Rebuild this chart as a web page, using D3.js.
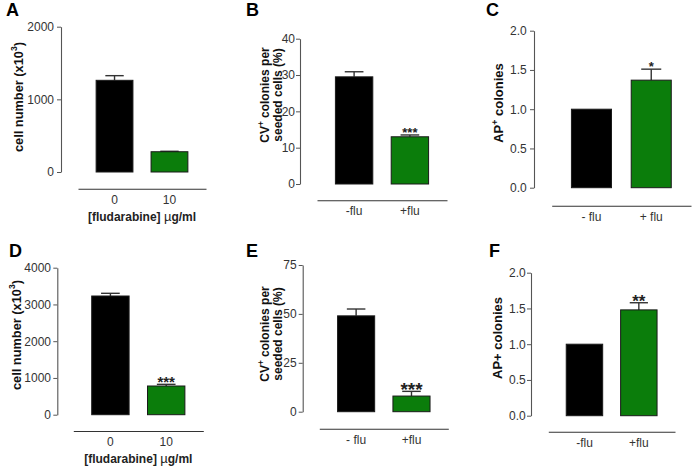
<!DOCTYPE html>
<html>
<head>
<meta charset="utf-8">
<script src="https://cdn.jsdelivr.net/npm/d3@7"></script>
<style>
  html, body { margin: 0; padding: 0; background: #fff; }
  svg { display: block; font-family: "Liberation Sans", Arial, Helvetica, sans-serif; }
</style>
</head>
<body>
<svg id="chart" width="692" height="467"></svg>
<script>
// ---------- DATA ----------
const catsDose = ["0", "10"];
const catsFluB = ["-flu", "+flu"];
const catsFluC = ["- flu", "+ flu"];
const catsFluE = ["- flu", "+flu"];
const catsFluF = ["-flu", "+flu"];

const valuesA = [1262, 279];
const errorsA = [64, 6];
const starsA = ["", ""];
const ticksA = [0, 1000, 2000];

const valuesB = [29.5, 13.0];
const errorsB = [1.4, 0.5];
const starsB = ["", "***"];
const ticksB = [0, 10, 20, 30, 40];

const valuesC = [1.0, 1.37];
const errorsC = [0, 0.14];
const starsC = ["", "*"];
const ticksC = [0, 0.5, 1.0, 1.5, 2.0];

const valuesD = [3230, 781];
const errorsD = [73, 45];
const starsD = ["", "***"];
const ticksD = [0, 1000, 2000, 3000, 4000];

const valuesE = [49, 8];
const errorsE = [3.5, 2.4];
const starsE = ["", "***"];
const ticksE = [0, 25, 50, 75];

const valuesF = [1.0, 1.48];
const errorsF = [0, 0.1];
const starsF = ["", "**"];
const ticksF = [0, 0.5, 1.0, 1.5, 2.0];

const barColors = ["#000000", "#0b7d0b"];

// ---------- DRAW ----------
const svg = d3.select("#chart");

function label(g, parts) {
  let afterSup = false;
  parts.forEach(([t, sup]) => {
    const ts = g.append("tspan").text(t);
    if (sup) { ts.attr("font-size", "0.68em").attr("dy", "-0.6em"); afterSup = true; }
    else if (afterSup) { ts.attr("dy", "0.408em"); afterSup = false; }
  });
}

function panel(cfg) {
  const g = svg.append("g");
  const y = d3.scaleLinear().domain([0, cfg.ticks[cfg.ticks.length - 1]]).range([cfg.y0, cfg.y1]);
  const x = d3.scaleBand().domain(cfg.cats).range([cfg.xl, cfg.xr])
    .paddingInner(0.33).paddingOuter(0.33);

  // y axis
  const ya = g.append("g").attr("transform", `translate(${cfg.ax},0)`)
    .call(d3.axisLeft(y).tickValues(cfg.ticks).tickSize(4).tickSizeOuter(0).tickPadding(cfg.tp)
      .tickFormat(cfg.fmt));
  ya.select(".domain").attr("stroke", "#555").attr("stroke-width", 1.1);
  ya.selectAll(".tick line").attr("stroke", "#555");
  ya.selectAll(".tick text").attr("font-size", 12).attr("fill", "#333")
    .attr("font-family", "Liberation Sans, Arial, sans-serif");

  // x axis
  const xa = g.append("g").attr("transform", `translate(0,${cfg.lineY})`)
    .call(d3.axisBottom(x).tickSize(0).tickSizeOuter(0).tickPadding(6.5));
  xa.select(".domain").attr("stroke", "#333").attr("stroke-width", 1.1);
  xa.selectAll(".tick text").attr("font-size", 12).attr("fill", "#333")
    .attr("font-family", "Liberation Sans, Arial, sans-serif");

  // error bars (upper only)
  const eb = g.append("g").attr("stroke", "#333").attr("stroke-width", 1.4);
  cfg.cats.forEach((c, i) => {
    if (cfg.errors[i] <= 0) return;
    const cx = x(c) + x.bandwidth() / 2;
    const hw = x.bandwidth() / 4;
    eb.append("line").attr("x1", cx).attr("x2", cx)
      .attr("y1", y(cfg.values[i])).attr("y2", y(cfg.values[i] + cfg.errors[i]));
    eb.append("line").attr("x1", cx - hw).attr("x2", cx + hw)
      .attr("y1", y(cfg.values[i] + cfg.errors[i])).attr("y2", y(cfg.values[i] + cfg.errors[i]));
  });

  // bars
  g.append("g").selectAll("rect").data(cfg.cats).join("rect")
    .attr("x", d => x(d))
    .attr("width", x.bandwidth())
    .attr("y", (d, i) => y(cfg.values[i]))
    .attr("height", (d, i) => y(0) - y(cfg.values[i]))
    .attr("fill", (d, i) => barColors[i])
    .attr("stroke", "#1a1a1a").attr("stroke-width", 1);

  // significance stars
  g.append("g").selectAll("text").data(cfg.cats).join("text")
    .attr("x", d => x(d) + x.bandwidth() / 2)
    .attr("y", (d, i) => y(cfg.values[i] + cfg.errors[i]) - 6 + 0.58 * cfg.starSize)
    .attr("text-anchor", "middle")
    .attr("font-size", cfg.starSize)
    .attr("font-weight", "bold")
    .attr("fill", "#222")
    .text((d, i) => cfg.stars[i]);

  // y label (one text per line)
  cfg.ylabel.forEach((line, li) => {
    const t = g.append("text")
      .attr("transform", `translate(${cfg.ylx + 13.2 * li},${cfg.yly}) rotate(-90)`)
      .attr("text-anchor", "middle")
      .attr("font-size", cfg.ylSize).attr("font-weight", "bold").attr("fill", "#111");
    label(t, line);
  });

  // x title
  if (cfg.xtitle) {
    const xt = g.append("text").attr("x", (cfg.xl + cfg.xr) / 2).attr("y", cfg.xtitleY)
      .attr("text-anchor", "middle").attr("font-size", 12).attr("font-weight", "bold").attr("fill", "#222");
    xt.append("tspan").text("[fludarabine] ");
    xt.append("tspan").text("\u00B5").attr("font-weight", "normal").attr("font-size", 13);
    xt.append("tspan").text("g/ml");
  }

  // panel letter
  svg.append("text").attr("x", cfg.lx).attr("y", cfg.ly)
    .attr("font-size", 18).attr("font-weight", "bold").attr("fill", "#000").text(cfg.letter);
}

const fmtInt = d3.format("d");
const fmt1 = d3.format(".1f");

panel({ letter: "A", lx: 6, ly: 16, cats: catsDose, values: valuesA, errors: errorsA, stars: starsA,
  ticks: ticksA, fmt: fmtInt, ax: 61, y0: 172, y1: 26.7, xl: 78, xr: 206, lineY: 188.7, tp: 3,
  starSize: 13, ylx: 22.5, yly: 97, ylSize: 12.8,
  ylabel: [[["cell number (x10", false], ["3", true], [")", false]]],
  xtitle: true, xtitleY: 221 });

panel({ letter: "B", lx: 246, ly: 16, cats: catsFluB, values: valuesB, errors: errorsB, stars: starsB,
  ticks: ticksB, fmt: fmtInt, ax: 300, y0: 184, y1: 38.7, xl: 317, xr: 447, lineY: 200.3, tp: 1,
  starSize: 13, ylx: 269, yly: 95, ylSize: 12,
  ylabel: [[["CV", false], ["+", true], [" colonies per", false]], [["seeded cells (%)", false]]] });

panel({ letter: "C", lx: 486, ly: 16, cats: catsFluC, values: valuesC, errors: errorsC, stars: starsC,
  ticks: ticksC, fmt: fmt1, ax: 534, y0: 187.7, y1: 30.7, xl: 551.7, xr: 691, lineY: 205.7, tp: 3.3,
  starSize: 13, ylx: 503, yly: 103, ylSize: 13,
  ylabel: [[["AP", false], ["+", true], [" colonies", false]]] });

panel({ letter: "D", lx: 9, ly: 257, cats: catsDose, values: valuesD, errors: errorsD, stars: starsD,
  ticks: ticksD, fmt: fmtInt, ax: 57.3, y0: 414.7, y1: 267.7, xl: 73.3, xr: 203.3, lineY: 431, tp: 2.3,
  starSize: 15, ylx: 20.5, yly: 335, ylSize: 12.8,
  ylabel: [[["cell number (x10", false], ["3", true], [")", false]]],
  xtitle: true, xtitleY: 462.5 });

panel({ letter: "E", lx: 246, ly: 257, cats: catsFluE, values: valuesE, errors: errorsE, stars: starsE,
  ticks: ticksE, fmt: fmtInt, ax: 302.7, y0: 411.7, y1: 265, xl: 319.3, xr: 448.3, lineY: 428.7, tp: 2,
  starSize: 19, ylx: 269, yly: 334, ylSize: 12,
  ylabel: [[["CV", false], ["+", true], [" colonies per", false]], [["seeded cells (%)", false]]] });

panel({ letter: "F", lx: 489, ly: 257, cats: catsFluF, values: valuesF, errors: errorsF, stars: starsF,
  ticks: ticksF, fmt: fmt1, ax: 531, y0: 415.7, y1: 272.7, xl: 548.3, xr: 675, lineY: 431.7, tp: 1.3,
  starSize: 17, ylx: 501.5, yly: 338, ylSize: 13,
  ylabel: [[["AP+ colonies", false]]] });
</script>
</body>
</html>
